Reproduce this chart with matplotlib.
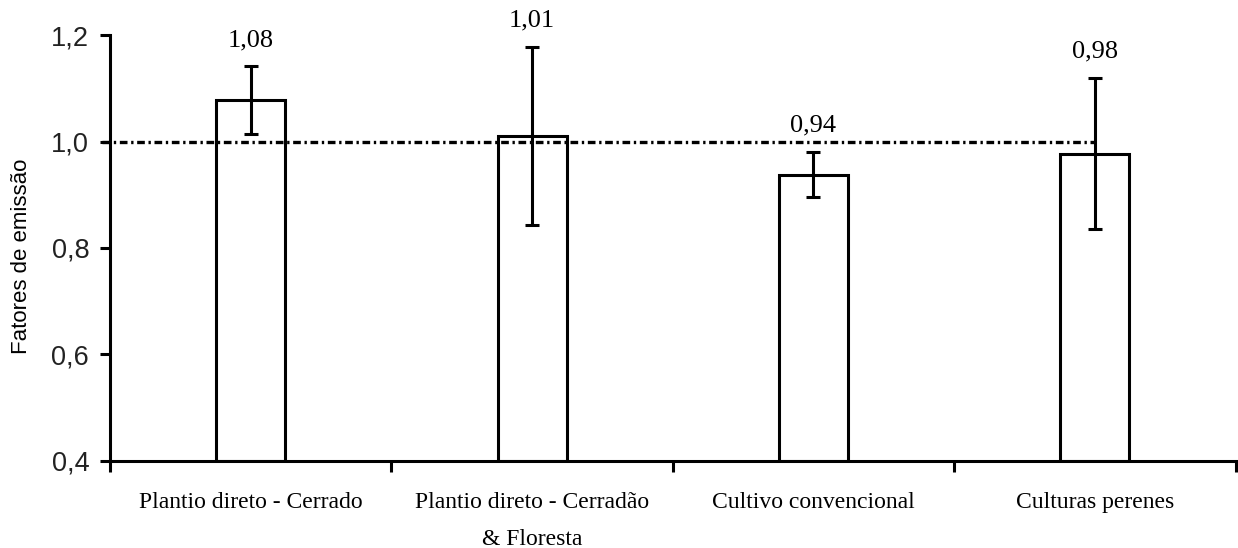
import matplotlib
matplotlib.use('Agg')
import matplotlib.pyplot as plt
import numpy as np

categories = ['Plantio direto - Cerrado', 'Plantio direto - Cerradão\n& Floresta',
              'Cultivo convencional', 'Culturas perenes']
values = [1.078, 1.010, 0.938, 0.977]
errors = [0.063, 0.167, 0.042, 0.142]
value_labels = ['1,08', '1,01', '0,94', '0,98']
yticks = [0.4, 0.6, 0.8, 1.0, 1.2]
ytick_labels = ['0,4', '0,6', '0,8', '1,0', '1,2']
reference_level = 1.0

serif = ['Liberation Serif', 'DejaVu Serif']
sans = ['Liberation Sans', 'DejaVu Sans']

fig = plt.figure(figsize=(12.38, 5.48), dpi=100)
ax = fig.add_axes([0.0889, 0.1588, 0.9091, 0.7773])

x = np.arange(len(categories))
ax.bar(x, np.array(values) - 0.4, bottom=0.4, width=0.245, color='white',
       edgecolor='black', linewidth=2.2, zorder=2)
ax.errorbar(x, values, yerr=errors, fmt='none', ecolor='black', elinewidth=2.2,
            capsize=5, capthick=2.2, zorder=4)
ax.plot([-0.53, 3.0], [reference_level, reference_level], color='black',
        linewidth=2.4, dashes=[2.3, 1.1, 0.7, 1.1], zorder=3, clip_on=False)

for xi, v, e, lab in zip(x, values, errors, value_labels):
    ax.annotate(lab, (xi, v + e), xytext=(0, 19), textcoords='offset points',
                ha='center', va='center', fontsize=19, family=serif)

ax.set_xlim(-0.5, 3.5)
ax.set_ylim(0.4, 1.2)
ax.set_yticks(yticks)
ax.set_yticklabels(ytick_labels, family=sans, fontsize=19.5, color='#222222')
ax.set_xticks(x)
ax.set_xticklabels(categories, family=serif, fontsize=17, linespacing=2.0,
                   va='top')
ax.set_xticks(np.arange(-0.5, 4.0, 1.0), minor=True)
ax.tick_params(axis='x', which='major', length=0, pad=22)
ax.tick_params(axis='x', which='minor', length=8, width=2.2, direction='out')
ax.tick_params(axis='y', length=7, width=2.2, direction='out', pad=8)

ax.set_ylabel('Fatores de emissão', family=sans, fontsize=16)
ax.yaxis.set_label_coords(-0.069, 0.48)

for side in ['top', 'right']:
    ax.spines[side].set_visible(False)
for side in ['left', 'bottom']:
    ax.spines[side].set_linewidth(2.2)

fig.savefig('out.png', dpi=100)
